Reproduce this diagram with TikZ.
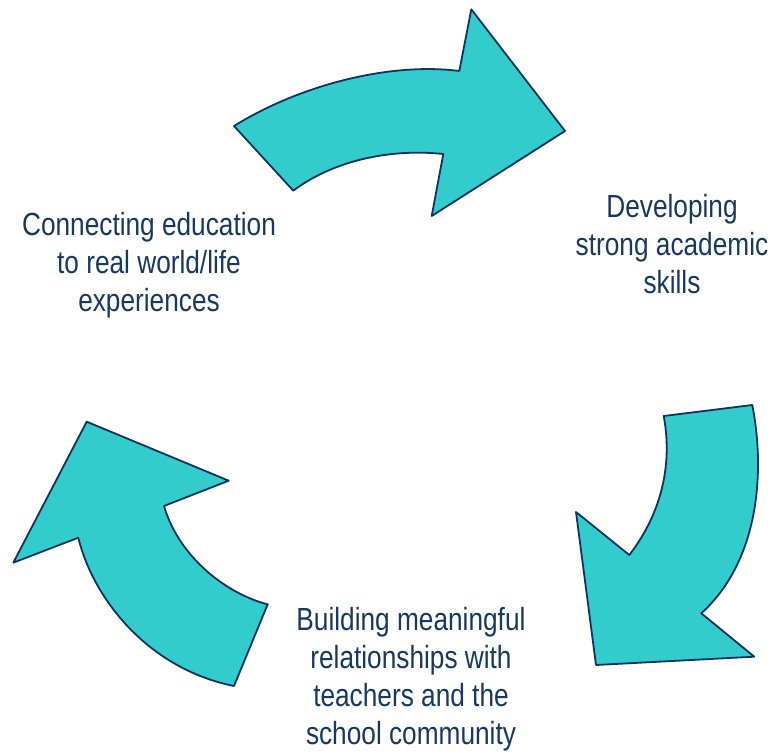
\documentclass[tikz,border=0pt]{standalone}
\usepackage{fontspec}
\setmainfont[FakeStretch=0.82]{Liberation Sans}
\usepackage{tikz}
\usetikzlibrary{calc}
\definecolor{ttcccc}{rgb}{0.2,0.8,0.8}
\definecolor{qqttuu}{rgb}{0.06,0.2,0.38}
\definecolor{rrttyy}{rgb}{0.09,0.22,0.39}
\tikzstyle{every node}=[font=\fontsize{32}{38}\selectfont,color=rrttyy,align=center]
\tikzstyle{bent arrow}=[line width=1.8pt,draw=qqttuu,fill=ttcccc]

\begin{document}
\begin{tikzpicture}[line cap=round,line join=round,x=1pt,y=-1pt]
                    \useasboundingbox (0,0) rectangle (777,754);

                    % top arrow
                    \draw [bent arrow] (234,126) .. controls (300,85) and (390,62) .. (459.3,71)
                        -- (471.3,9.3) -- (565,131) -- (431.7,216) -- (443.3,154)
                        .. controls (385,148) and (330,163) .. (293.3,190.7) -- cycle;
                    % right arrow
                    \draw [bent arrow] (752.3,405) .. controls (765,470) and (760,560) .. (701.3,613.3)
                        -- (754.3,656.7) -- (596,665) -- (576,512) -- (629.3,555)
                        .. controls (664,510) and (672,460) .. (663.7,416) -- cycle;
                    % left arrow
                    \draw [bent arrow] (234,686) .. controls (145,668) and (92,595) .. (78.3,537.7)
                        -- (13.3,562.7) -- (86.7,421.7) -- (228.7,480.7) -- (164,506)
                        .. controls (180,560) and (230,595) .. (267.7,604.3) -- cycle;

                    \node (connect) at (149,265) {Connecting education\\to real world/life\\experiences};
                    \node (develop) at (672,244) {Developing\\strong academic\\skills};
                    \node (build) at (411,679) {Building meaningful\\relationships with\\teachers and the\\school community};
                    \end{tikzpicture}
\end{document}
